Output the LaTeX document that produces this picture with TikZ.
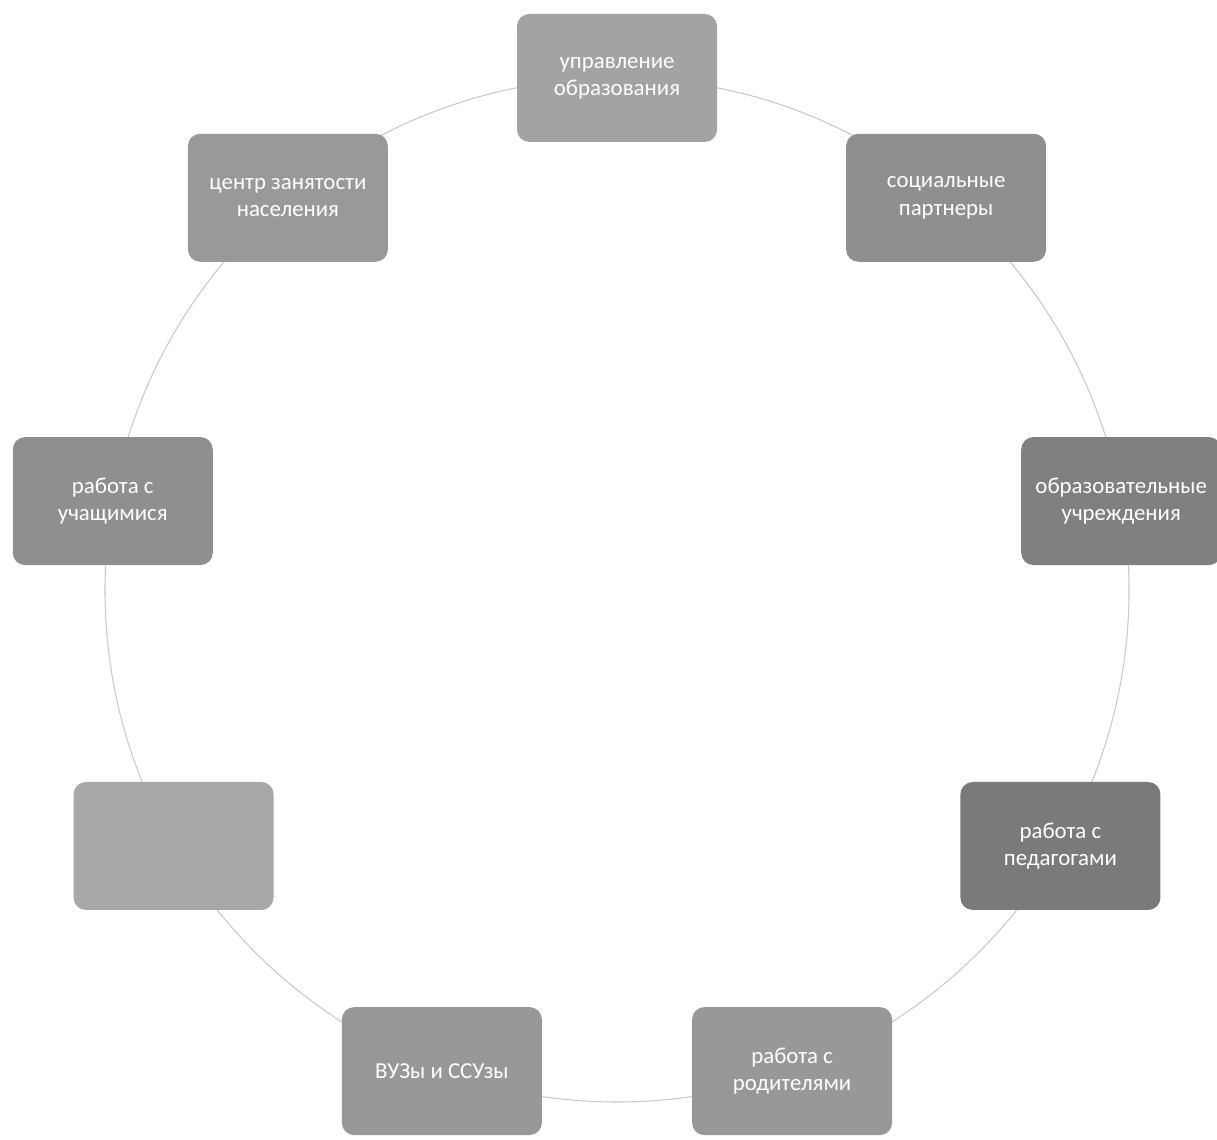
\documentclass[tikz,border=0pt]{standalone}
\usepackage{fontspec}
\setmainfont{Carlito}
\usetikzlibrary{positioning,backgrounds}
\definecolor{boxgray}{RGB}{152,152,152}
\definecolor{boxdark}{RGB}{128,128,128}
\definecolor{ringgray}{RGB}{200,200,200}
\tikzset{
  unit/.style={rounded corners=7pt, fill=boxgray, text=white, align=center, minimum width=4cm, minimum height=2.56cm, font=\fontsize{13}{15.5}\selectfont},
  darkunit/.style={unit, fill=boxdark},
  ring/.style={draw=ringgray, line width=0.6pt}
}
\begin{document}
\begin{tikzpicture}
  \useasboundingbox (0,0) rectangle (24.34,22.78);
  \coordinate (c) at (12.34,10.98);
  \def\R{10.24}

  % ring of partners
  \node[unit, fill=black!36] (upr) at ([shift={(90:\R)}]c) {управление\\образования};
  \node[unit, fill=black!44] (soc) at ([shift={(50:\R)}]c) {социальные\\партнеры};
  \node[darkunit] (obr) at ([shift={(10:\R)}]c) {образовательные\\учреждения};
  \node[unit, fill=black!52] (ped) at ([shift={(-30:\R)}]c) {работа с\\педагогами};
  \node[unit] (rod) at ([shift={(-70:\R)}]c) {работа с\\родителями};
  \node[unit] (vuz) at ([shift={(-110:\R)}]c) {ВУЗы и ССУзы};
  \node[unit, fill=black!34] (empty) at ([shift={(-150:\R)}]c) {};
  \node[unit, fill=black!44] (uch) at ([shift={(170:\R)}]c) {работа с\\учащимися};
  \node[unit, fill=black!40] (czn) at ([shift={(130:\R)}]c) {центр занятости\\населения};

  \begin{scope}[on background layer]
    \draw[ring] (c) circle (\R);
  \end{scope}
\end{tikzpicture}
\end{document}
